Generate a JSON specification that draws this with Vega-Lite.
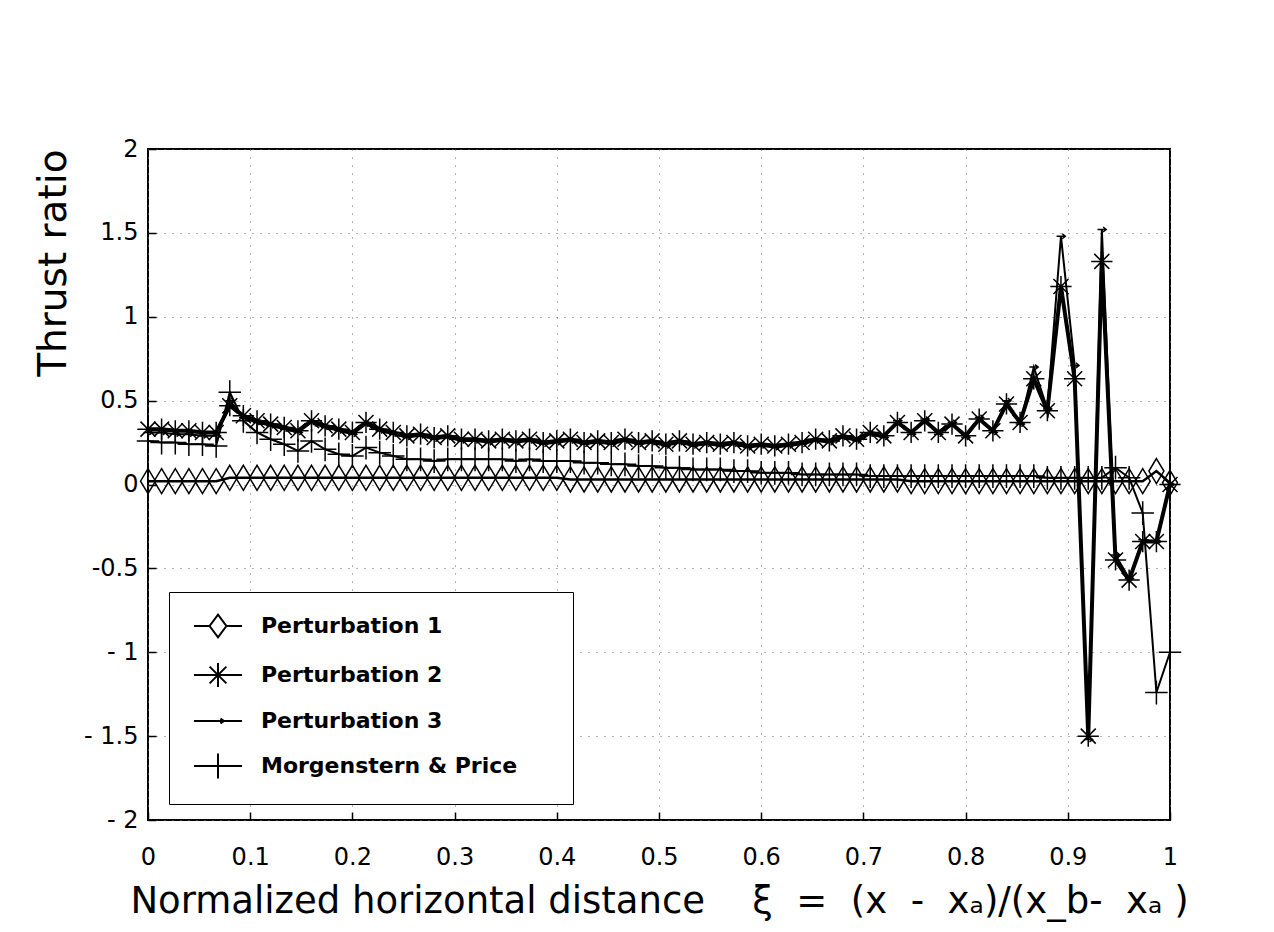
{
  "$schema": "https://vega.github.io/schema/vega-lite/v6.json",
  "width": 1022,
  "height": 671,
  "autosize": {"type": "none"},
  "padding": {"left": 148, "top": 149, "right": 104, "bottom": 112},
  "background": "white",
  "config": {
    "view": {"stroke": "black", "strokeWidth": 2},
    "font": "DejaVu Sans",
    "axis": {
      "grid": true,
      "gridColor": "#666666",
      "gridDash": [1, 7],
      "gridWidth": 1,
      "domain": false,
      "tickColor": "black",
      "tickSize": -8,
      "tickWidth": 1.5,
      "labelFont": "DejaVu Sans",
      "labelFontSize": 24,
      "labelColor": "black",
      "titleFont": "DejaVu Sans",
      "titleFontWeight": "normal",
      "titleColor": "black"
    }
  },
  "data": {
    "values": [
      {"xi": 0, "p1": 0.02, "p2": 0.33, "p3": 0.31, "mp": 0.26},
      {"xi": 0.0133, "p1": 0.02, "p2": 0.33, "p3": 0.31, "mp": 0.25},
      {"xi": 0.0267, "p1": 0.02, "p2": 0.32, "p3": 0.30, "mp": 0.25},
      {"xi": 0.04, "p1": 0.02, "p2": 0.32, "p3": 0.30, "mp": 0.24},
      {"xi": 0.0533, "p1": 0.02, "p2": 0.31, "p3": 0.29, "mp": 0.24},
      {"xi": 0.0667, "p1": 0.02, "p2": 0.31, "p3": 0.29, "mp": 0.23},
      {"xi": 0.08, "p1": 0.04, "p2": 0.47, "p3": 0.50, "mp": 0.55},
      {"xi": 0.0933, "p1": 0.04, "p2": 0.41, "p3": 0.40, "mp": 0.38},
      {"xi": 0.1067, "p1": 0.04, "p2": 0.38, "p3": 0.37, "mp": 0.31},
      {"xi": 0.12, "p1": 0.04, "p2": 0.36, "p3": 0.35, "mp": 0.27},
      {"xi": 0.1333, "p1": 0.04, "p2": 0.34, "p3": 0.33, "mp": 0.24},
      {"xi": 0.1467, "p1": 0.04, "p2": 0.32, "p3": 0.31, "mp": 0.20},
      {"xi": 0.16, "p1": 0.04, "p2": 0.38, "p3": 0.37, "mp": 0.26},
      {"xi": 0.1733, "p1": 0.04, "p2": 0.35, "p3": 0.34, "mp": 0.21},
      {"xi": 0.1867, "p1": 0.04, "p2": 0.33, "p3": 0.32, "mp": 0.18},
      {"xi": 0.2, "p1": 0.04, "p2": 0.31, "p3": 0.30, "mp": 0.17},
      {"xi": 0.2133, "p1": 0.04, "p2": 0.37, "p3": 0.36, "mp": 0.22},
      {"xi": 0.2267, "p1": 0.04, "p2": 0.33, "p3": 0.32, "mp": 0.19},
      {"xi": 0.24, "p1": 0.04, "p2": 0.31, "p3": 0.30, "mp": 0.17},
      {"xi": 0.2533, "p1": 0.04, "p2": 0.29, "p3": 0.28, "mp": 0.15},
      {"xi": 0.2667, "p1": 0.04, "p2": 0.30, "p3": 0.29, "mp": 0.15},
      {"xi": 0.28, "p1": 0.04, "p2": 0.28, "p3": 0.27, "mp": 0.14},
      {"xi": 0.2933, "p1": 0.04, "p2": 0.29, "p3": 0.28, "mp": 0.15},
      {"xi": 0.3067, "p1": 0.04, "p2": 0.27, "p3": 0.26, "mp": 0.15},
      {"xi": 0.32, "p1": 0.04, "p2": 0.27, "p3": 0.26, "mp": 0.15},
      {"xi": 0.3333, "p1": 0.04, "p2": 0.26, "p3": 0.25, "mp": 0.15},
      {"xi": 0.3467, "p1": 0.04, "p2": 0.27, "p3": 0.26, "mp": 0.15},
      {"xi": 0.36, "p1": 0.04, "p2": 0.26, "p3": 0.25, "mp": 0.14},
      {"xi": 0.3733, "p1": 0.04, "p2": 0.27, "p3": 0.26, "mp": 0.15},
      {"xi": 0.3867, "p1": 0.04, "p2": 0.25, "p3": 0.24, "mp": 0.14},
      {"xi": 0.4, "p1": 0.04, "p2": 0.26, "p3": 0.25, "mp": 0.14},
      {"xi": 0.4133, "p1": 0.03, "p2": 0.27, "p3": 0.26, "mp": 0.14},
      {"xi": 0.4267, "p1": 0.03, "p2": 0.25, "p3": 0.24, "mp": 0.13},
      {"xi": 0.44, "p1": 0.03, "p2": 0.26, "p3": 0.25, "mp": 0.13},
      {"xi": 0.4533, "p1": 0.03, "p2": 0.25, "p3": 0.24, "mp": 0.12},
      {"xi": 0.4667, "p1": 0.03, "p2": 0.27, "p3": 0.26, "mp": 0.12},
      {"xi": 0.48, "p1": 0.03, "p2": 0.25, "p3": 0.24, "mp": 0.11},
      {"xi": 0.4933, "p1": 0.03, "p2": 0.26, "p3": 0.25, "mp": 0.11},
      {"xi": 0.5067, "p1": 0.03, "p2": 0.24, "p3": 0.23, "mp": 0.10},
      {"xi": 0.52, "p1": 0.03, "p2": 0.26, "p3": 0.25, "mp": 0.10},
      {"xi": 0.5333, "p1": 0.03, "p2": 0.24, "p3": 0.23, "mp": 0.09},
      {"xi": 0.5467, "p1": 0.03, "p2": 0.25, "p3": 0.24, "mp": 0.09},
      {"xi": 0.56, "p1": 0.03, "p2": 0.24, "p3": 0.23, "mp": 0.09},
      {"xi": 0.5733, "p1": 0.03, "p2": 0.25, "p3": 0.24, "mp": 0.08},
      {"xi": 0.5867, "p1": 0.03, "p2": 0.23, "p3": 0.22, "mp": 0.08},
      {"xi": 0.6, "p1": 0.03, "p2": 0.24, "p3": 0.23, "mp": 0.07},
      {"xi": 0.6133, "p1": 0.03, "p2": 0.23, "p3": 0.22, "mp": 0.07},
      {"xi": 0.6267, "p1": 0.03, "p2": 0.24, "p3": 0.23, "mp": 0.07},
      {"xi": 0.64, "p1": 0.03, "p2": 0.25, "p3": 0.24, "mp": 0.06},
      {"xi": 0.6533, "p1": 0.03, "p2": 0.27, "p3": 0.26, "mp": 0.06},
      {"xi": 0.6667, "p1": 0.03, "p2": 0.26, "p3": 0.25, "mp": 0.06},
      {"xi": 0.68, "p1": 0.03, "p2": 0.29, "p3": 0.28, "mp": 0.06},
      {"xi": 0.6933, "p1": 0.03, "p2": 0.27, "p3": 0.26, "mp": 0.06},
      {"xi": 0.7067, "p1": 0.03, "p2": 0.31, "p3": 0.30, "mp": 0.05},
      {"xi": 0.72, "p1": 0.03, "p2": 0.29, "p3": 0.28, "mp": 0.05},
      {"xi": 0.7333, "p1": 0.03, "p2": 0.37, "p3": 0.38, "mp": 0.05},
      {"xi": 0.7467, "p1": 0.02, "p2": 0.31, "p3": 0.30, "mp": 0.05},
      {"xi": 0.76, "p1": 0.02, "p2": 0.38, "p3": 0.39, "mp": 0.05},
      {"xi": 0.7733, "p1": 0.02, "p2": 0.31, "p3": 0.30, "mp": 0.05},
      {"xi": 0.7867, "p1": 0.02, "p2": 0.36, "p3": 0.37, "mp": 0.05},
      {"xi": 0.8, "p1": 0.02, "p2": 0.29, "p3": 0.28, "mp": 0.05},
      {"xi": 0.8133, "p1": 0.02, "p2": 0.39, "p3": 0.40, "mp": 0.05},
      {"xi": 0.8267, "p1": 0.02, "p2": 0.32, "p3": 0.31, "mp": 0.05},
      {"xi": 0.84, "p1": 0.02, "p2": 0.48, "p3": 0.50, "mp": 0.05},
      {"xi": 0.8533, "p1": 0.02, "p2": 0.37, "p3": 0.36, "mp": 0.05},
      {"xi": 0.8667, "p1": 0.02, "p2": 0.63, "p3": 0.70, "mp": 0.05},
      {"xi": 0.88, "p1": 0.02, "p2": 0.44, "p3": 0.45, "mp": 0.04},
      {"xi": 0.8933, "p1": 0.02, "p2": 1.18, "p3": 1.48, "mp": 0.04},
      {"xi": 0.9067, "p1": 0.02, "p2": 0.63, "p3": 0.71, "mp": 0.04},
      {"xi": 0.92, "p1": 0.02, "p2": -1.5, "p3": -1.52, "mp": 0.04},
      {"xi": 0.9333, "p1": 0.02, "p2": 1.33, "p3": 1.52, "mp": 0.04},
      {"xi": 0.9467, "p1": 0.02, "p2": -0.45, "p3": -0.42, "mp": 0.10},
      {"xi": 0.96, "p1": 0.02, "p2": -0.57, "p3": -0.56, "mp": 0.04},
      {"xi": 0.9733, "p1": 0.02, "p2": -0.34, "p3": -0.33, "mp": -0.17},
      {"xi": 0.9867, "p1": 0.08, "p2": -0.34, "p3": -0.34, "mp": -1.24},
      {"xi": 1, "p1": 0.01, "p2": 0.0, "p3": 0.0, "mp": -1.0}
    ]
  },
  "transform": [{"fold": ["p1", "p2", "p3", "mp"], "as": ["series", "thrust"]}],
  "encoding": {
    "x": {
      "field": "xi",
      "type": "quantitative",
      "scale": {"domain": [0, 1], "nice": false},
      "axis": {
        "values": [0, 0.1, 0.2, 0.3, 0.4, 0.5, 0.6, 0.7, 0.8, 0.9, 1],
        "labelExpr": "format(datum.value, '~g')",
        "labelPadding": 33,
        "labelFlush": false,
        "title": "Normalized horizontal distance\u00a0\u00a0\u00a0\u00a0ξ\u00a0\u00a0=\u00a0\u00a0(x\u00a0\u00a0-\u00a0\u00a0xₐ)/(x_b-\u00a0\u00a0xₐ\u00a0)",
        "titleFontSize": 37,
        "titlePadding": 14
      }
    },
    "y": {
      "field": "thrust",
      "type": "quantitative",
      "scale": {"domain": [-2, 2], "nice": false},
      "axis": {
        "values": [-2, -1.5, -1, -0.5, 0, 0.5, 1, 1.5, 2],
        "labelExpr": "datum.value == -0.5 ? '-0.5' : (datum.value < 0 ? '- ' + format(-datum.value, '~g') : format(datum.value, '~g'))",
        "labelPadding": 18,
        "labelFlush": false,
        "title": "Thrust ratio",
        "titleFontSize": 39,
        "titleAnchor": "end",
        "titlePadding": 10
      }
    }
  },
  "resolve": {"scale": {"shape": "independent"}, "legend": {"shape": "independent"}},
  "layer": [
    {"transform": [{"filter": "datum.series === 'p1'"}], "mark": {"type": "line", "color": "black", "strokeWidth": 2.5}},
    {"transform": [{"filter": "datum.series === 'mp'"}], "mark": {"type": "line", "color": "black", "strokeWidth": 2}},
    {"transform": [{"filter": "datum.series === 'p3'"}], "mark": {"type": "line", "color": "black", "strokeWidth": 2}},
    {"transform": [{"filter": "datum.series === 'p2'"}], "mark": {"type": "line", "color": "black", "strokeWidth": 4}},
    {
      "mark": {"type": "point", "filled": false, "opacity": 1, "strokeWidth": 1.5, "size": 625, "color": "black"},
      "encoding": {
        "shape": {
          "field": "series",
          "type": "nominal",
          "scale": {
            "domain": ["p1", "p2", "p3", "mp"],
            "range": [
              "M0,-1L0.6,0L0,1L-0.6,0Z",
              "M-0.85,0L0.85,0M0,-0.85L0,0.85M-0.6,-0.6L0.6,0.6M-0.6,0.6L0.6,-0.6",
              "M-0.35,0L0.35,0M0.1,-0.2L0.35,0L0.1,0.2",
              "M-0.9,0L0.9,0M0,-0.95L0,0.95"
            ]
          },
          "legend": null
        }
      }
    },
    {
      "transform": [{"filter": "datum.series === 'none'"}],
      "mark": {"type": "point", "filled": false, "opacity": 1, "strokeWidth": 2, "size": 576, "color": "black"},
      "encoding": {
        "shape": {
          "field": "series",
          "type": "nominal",
          "scale": {
            "domain": ["p1", "p2", "p3", "mp"],
            "range": [
              "M-2,0L-0.7,0M0.7,0L2,0M0,-0.95L0.7,0L0,0.95L-0.7,0Z",
              "M-2,0L2,0M0,-1L0,1M-0.7,-0.7L0.7,0.7M-0.7,0.7L0.7,-0.7",
              "M-2,0L2,0M-0.5,0L0.5,0M0.2,-0.2L0.5,0L0.2,0.2",
              "M-2,0L2,0M0,-1.05L0,1.05"
            ]
          },
          "legend": {
            "title": null,
            "orient": "none",
            "legendX": 21,
            "legendY": 443,
            "padding": 21,
            "strokeColor": "black",
            "fillColor": "white",
            "symbolSize": 576,
            "symbolStrokeWidth": 2,
            "symbolStrokeColor": "black",
            "symbolFillColor": "transparent",
            "symbolOffset": 15,
            "labelOffset": 30,
            "rowPadding": 17,
            "labelFont": "DejaVu Sans",
            "labelFontWeight": "bold",
            "labelFontSize": 22,
            "labelColor": "black",
            "labelLimit": 500,
            "labelExpr": "(datum.label == 'p1' ? 'Perturbation 1' : datum.label == 'p2' ? 'Perturbation 2' : datum.label == 'p3' ? 'Perturbation 3' : 'Morgenstern & Price') + '\u2800\u2800'"
          }
        }
      }
    }
  ]
}
